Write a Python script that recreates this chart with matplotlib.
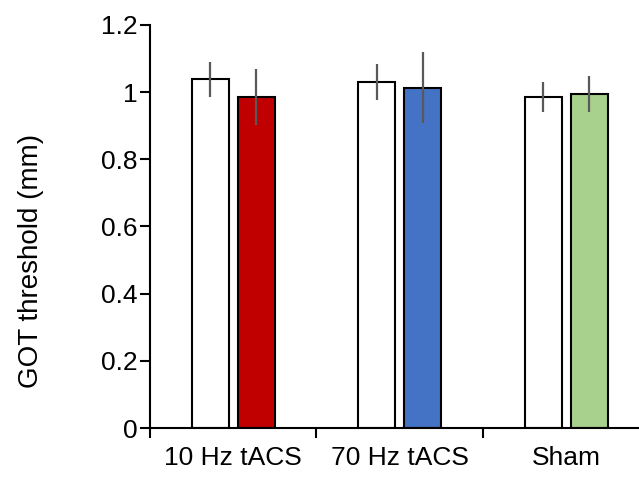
import numpy as np
import matplotlib
matplotlib.use('Agg')
import matplotlib.pyplot as plt

plt.rcParams['font.family'] = ['Liberation Sans', 'DejaVu Sans']

# ── DATA ─────────────────────────────────────────────────────────────────────
conditions  = ['10 Hz tACS', '70 Hz tACS', 'Sham']
pre_means   = [1.039, 1.031, 0.986]
pre_err     = [0.052, 0.053, 0.044]
post_means  = [0.986, 1.013, 0.995]
post_err    = [0.083, 0.106, 0.053]
post_colors = ['#C00000', '#4472C4', '#A9D18E']

# ── PLOT ─────────────────────────────────────────────────────────────────────
fig = plt.figure(figsize=(6.39, 4.79), dpi=100)
ax = fig.add_axes([150 / 639, 51 / 479, 499.5 / 639, 403 / 479])

x      = np.arange(len(conditions))
width  = 0.22
offset = 0.138

ax.bar(x - offset, pre_means, width, color='white', edgecolor='black',
       linewidth=1.5, zorder=2)
ax.bar(x + offset, post_means, width, color=post_colors, edgecolor='black',
       linewidth=1.5, zorder=2)
ax.errorbar(x - offset, pre_means, yerr=pre_err, fmt='none', ecolor='#595959',
            elinewidth=1.6, capsize=0, zorder=3)
ax.errorbar(x + offset, post_means, yerr=post_err, fmt='none', ecolor='#595959',
            elinewidth=1.6, capsize=0, zorder=3)

ax.set_xlim(-0.5, len(conditions) - 0.5)
ax.set_ylim(0, 1.2)
ax.set_yticks(np.arange(0, 1.21, 0.2))
ax.set_yticklabels(['0', '0.2', '0.4', '0.6', '0.8', '1', '1.2'])

# category boundary ticks on x axis, labels centred between them
ax.set_xticks(np.arange(-0.5, len(conditions), 1.0))
ax.set_xticklabels([])
ax.set_xticks(x, minor=True)
ax.set_xticklabels(conditions, minor=True)
ax.tick_params(axis='x', which='minor', length=0, pad=13, labelsize=19)
ax.tick_params(axis='x', which='major', length=7, width=1.5, direction='out')
ax.tick_params(axis='y', length=7, width=1.5, direction='out', labelsize=19, pad=2)

for side in ['top', 'right']:
    ax.spines[side].set_visible(False)
for side in ['left', 'bottom']:
    ax.spines[side].set_linewidth(1.5)

ax.set_ylabel('GOT threshold (mm)', fontsize=20)
ax.yaxis.set_label_coords(-0.212, 0.414)

fig.savefig('out.png', dpi=100)
